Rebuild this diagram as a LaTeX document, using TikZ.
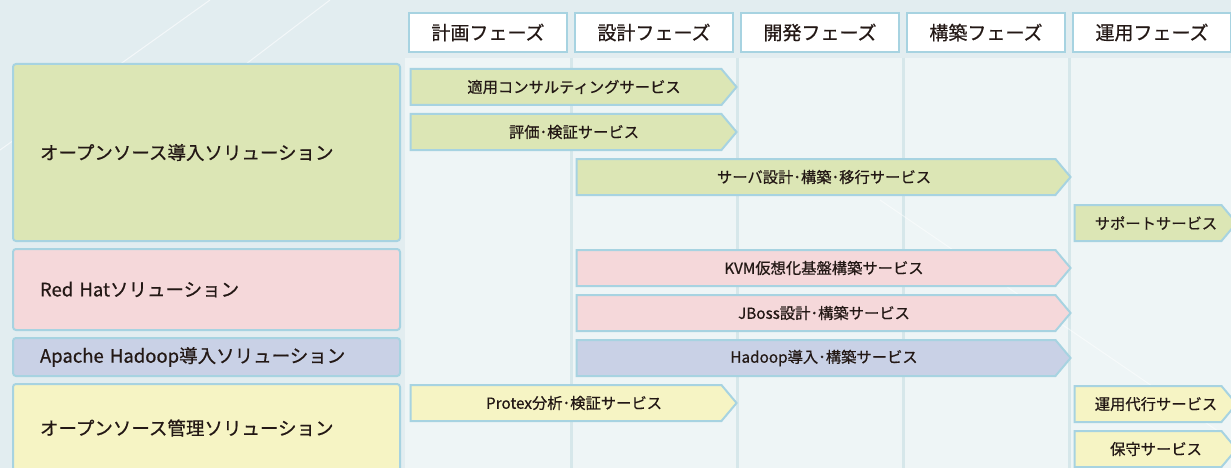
\documentclass[tikz,border=0pt]{standalone}
\usepackage{fontspec}
\setmainfont{Noto Sans CJK JP}[FakeBold=0.6]
\usetikzlibrary{shapes.symbols}
\definecolor{lineblue}{HTML}{A7D3E1}
\definecolor{bgblue}{HTML}{E2EDF0}
\definecolor{colbg}{HTML}{EEF5F6}
\definecolor{colline}{HTML}{D6E7EA}
\definecolor{greenfill}{HTML}{DCE6B5}
\definecolor{pinkfill}{HTML}{F5D8DA}
\definecolor{bluefill}{HTML}{C9D1E6}
\definecolor{yellowfill}{HTML}{F6F4C4}
\definecolor{inkdark}{HTML}{231815}
\tikzset{
    phase/.style={rectangle, draw=lineblue, fill=white, line width=2pt,
    	minimum width=158pt, minimum height=39pt, text=inkdark,
    	font=\fontsize{19}{21}\selectfont}
}
\tikzset{
    solution/.style={rectangle, rounded corners=3pt, draw=lineblue, line width=2pt,
    	minimum width=387pt, text width=333pt, align=left, inner xsep=0pt,
    	text=inkdark, font=\fontsize{18.5}{21}\selectfont}
}
\tikzset{
    service/.style={signal, signal to=east, signal pointer angle=100,
    	draw=lineblue, line width=2pt, minimum height=36pt, inner xsep=0pt,
    	execute at begin node={\hspace*{16pt}},
    	text=inkdark, font=\fontsize{15.3}{17}\selectfont}
}

\begin{document}
\begin{tikzpicture}[x=1pt, y=-1pt]
	\useasboundingbox (0,0) rectangle (1231,468);
	\clip (0,0) rectangle (1231,468);
	% background and phase columns
	\fill[bgblue] (0,0) rectangle (1231,468);
	\fill[colbg] (405,58) rectangle (1231,468);
	\draw[colline, line width=3pt] (571,58) -- (571,468);
	\draw[colline, line width=3pt] (737,58) -- (737,468);
	\draw[colline, line width=3pt] (903,58) -- (903,468);
	\draw[colline, line width=3pt] (1069,58) -- (1069,468);
	\draw[white, line width=1pt, opacity=.6] (0,150) -- (210,0);
	\draw[white, line width=1pt, opacity=.6] (120,160) -- (330,0);
	\draw[white, line width=1pt, opacity=.5] (880,200) -- (1231,440);
	
	% phases
	\node (plan) [phase] at (488, 32.5) {計画フェーズ};
	\node (design) [phase] at (654, 32.5) {設計フェーズ};
	\node (develop) [phase] at (820, 32.5) {開発フェーズ};
	\node (build) [phase] at (986, 32.5) {構築フェーズ};
	\node (operate) [phase] at (1152, 32.5) {運用フェーズ};
	
	% solutions
	\node (ossintro) [solution, fill=greenfill, minimum height=177pt] at (206.5, 152.5) {オープンソース導入ソリューション};
	\node (redhat) [solution, fill=pinkfill, minimum height=81pt] at (206.5, 289.5) {Red Hatソリューション};
	\node (hadoop) [solution, fill=bluefill, minimum height=38pt] at (206.5, 357) {Apache Hadoop導入ソリューション};
	\node (ossmanage) [solution, fill=yellowfill, minimum height=88pt] at (206.5, 428) {オープンソース管理ソリューション};
	
	% services
	\node (consult) [service, fill=greenfill, minimum width=326pt] at (566, 87) {適用コンサルティングサービス};
	\node (evaluate) [service, fill=greenfill, minimum width=326pt] at (566, 132) {評価･検証サービス};
	\node (server) [service, fill=greenfill, minimum width=494pt] at (816, 177) {サーバ設計･構築･移行サービス};
	\node (support) [service, fill=greenfill, minimum width=162pt] at (1148, 223) {サポートサービス};
	\node (kvm) [service, fill=pinkfill, minimum width=494pt] at (816, 268) {KVM仮想化基盤構築サービス};
	\node (jboss) [service, fill=pinkfill, minimum width=494pt] at (816, 313) {JBoss設計･構築サービス};
	\node (hdpbuild) [service, fill=bluefill, minimum width=494pt] at (816, 358) {Hadoop導入･構築サービス};
	\node (protex) [service, fill=yellowfill, minimum width=326pt] at (566, 403) {Protex分析･検証サービス};
	\node (opagent) [service, fill=yellowfill, minimum width=162pt] at (1148, 404) {運用代行サービス};
	\node (maint) [service, fill=yellowfill, minimum width=162pt] at (1148, 449) {保守サービス};
\end{tikzpicture}
\end{document}
